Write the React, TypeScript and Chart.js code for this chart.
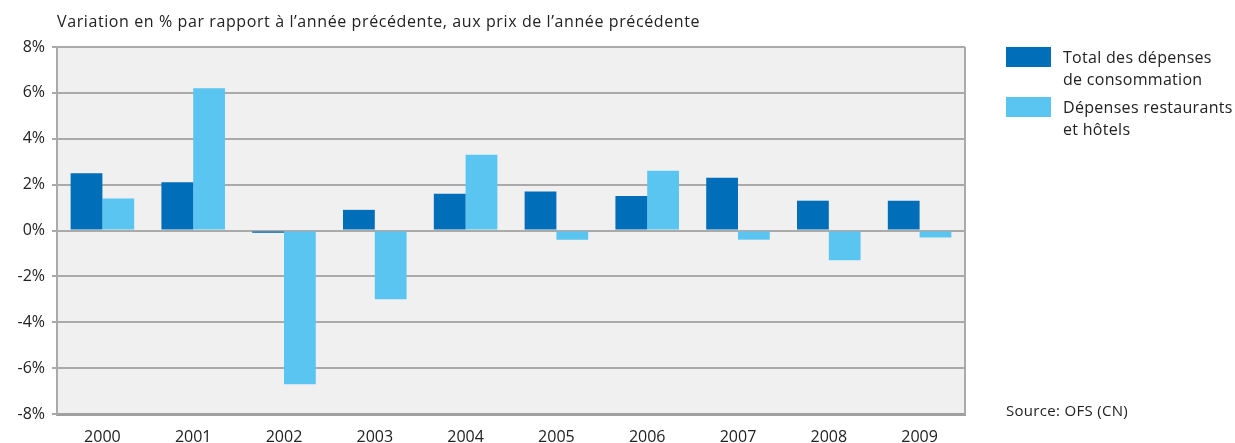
import React, { useEffect, useRef } from "react";
import { Chart, registerables } from "chart.js";

Chart.register(...registerables);

const categories = ["2000", "2001", "2002", "2003", "2004", "2005", "2006", "2007", "2008", "2009"];
const totalConsumption = [2.5, 2.1, -0.1, 0.9, 1.6, 1.7, 1.5, 2.3, 1.3, 1.3];
const restaurantsHotels = [1.4, 6.2, -6.7, -3.0, 3.3, -0.4, 2.6, -0.4, -1.3, -0.3];
const seriesLabels = [
  ["Total des dépenses", "de consommation"],
  ["Dépenses restaurants", "et hôtels"],
];
const titleText = "Variation en % par rapport à l\u2019année précédente, aux prix de l\u2019année précédente";
const sourceText = "Source: OFS (CN)";

const DARK = "#006EB8";
const LIGHT = "#5BC5F2";
const FONT = "'Open Sans', 'DejaVu Sans', sans-serif";

const decorPlugin = {
  id: "decor",
  beforeDraw(chart: any) {
    const { ctx, chartArea } = chart;
    ctx.save();
    ctx.fillStyle = "#F0F0F0";
    ctx.fillRect(chartArea.left, chartArea.top, chartArea.right - chartArea.left, chartArea.bottom - chartArea.top);
    ctx.restore();
  },
  afterDraw(chart: any) {
    const { ctx, chartArea } = chart;
    ctx.save();
    // right border
    ctx.strokeStyle = "#AAAAAA";
    ctx.lineWidth = 2;
    ctx.beginPath();
    ctx.moveTo(chartArea.right, chartArea.top);
    ctx.lineTo(chartArea.right, chartArea.bottom);
    ctx.stroke();
    // title
    ctx.fillStyle = "#222222";
    ctx.font = `16px ${FONT}`;
    ctx.textBaseline = "middle";
    ctx.textAlign = "left";
    (ctx as any).letterSpacing = "0.6px";
    ctx.fillText(titleText, chartArea.left, 22);
    (ctx as any).letterSpacing = "0px";
    // legend
    const colors = [DARK, LIGHT];
    const boxX = 1006;
    const tops = [47, 97];
    ctx.font = `16px ${FONT}`;
    (ctx as any).letterSpacing = "0.3px";
    seriesLabels.forEach((lines, i) => {
      ctx.fillStyle = colors[i];
      ctx.fillRect(boxX, tops[i], 45, 20);
      ctx.fillStyle = "#222222";
      lines.forEach((ln, j) => {
        ctx.fillText(ln, 1063, tops[i] + 11 + j * 22);
      });
    });
    // source
    ctx.font = `15px ${FONT}`;
    ctx.fillText(sourceText, 1006, 412);
    (ctx as any).letterSpacing = "0px";
    ctx.restore();
  },
};

export default function App() {
  const ref = useRef<HTMLCanvasElement | null>(null);
  useEffect(() => {
    if (!ref.current) return;
    const chart = new Chart(ref.current, {
      type: "bar",
      data: {
        labels: categories,
        datasets: [
          { label: seriesLabels[0].join(" "), data: totalConsumption, backgroundColor: DARK, borderWidth: 0, categoryPercentage: 0.7, barPercentage: 1.0 },
          { label: seriesLabels[1].join(" "), data: restaurantsHotels, backgroundColor: LIGHT, borderWidth: 0, categoryPercentage: 0.7, barPercentage: 1.0 },
        ],
      },
      options: {
        responsive: false,
        animation: false,
        layout: { padding: { left: 0, right: 270, top: 47, bottom: 0 } },
        plugins: { legend: { display: false }, title: { display: false }, tooltip: { enabled: false } },
        scales: {
          x: {
            grid: { display: false, drawTicks: false, tickLength: 0 },
            border: { display: true, color: "#A0A0A0", width: 3 },
            ticks: { color: "#222222", font: { family: FONT, size: 16 }, padding: 14 },
            afterFit(scale: any) { scale.height = 29; },
          },
          y: {
            min: -8,
            max: 8,
            ticks: {
              stepSize: 2,
              color: "#222222",
              font: { family: FONT, size: 16 },
              padding: 7,
              callback: (v: any) => `${v}%`,
            },
            grid: { color: "#AAAAAA", lineWidth: 2, tickLength: 5, drawTicks: true },
            border: { display: true, color: "#AAAAAA", width: 2 },
            afterFit(scale: any) { scale.width = 57; },
          },
        },
      },
      plugins: [decorPlugin],
    });
    return () => chart.destroy();
  }, []);
  return (
    <div style={{ position: "absolute", left: 0, top: 0, width: 1235, height: 443, background: "#fff" }}>
      <canvas ref={ref} width={1235} height={443} style={{ display: "block" }} />
    </div>
  );
}
